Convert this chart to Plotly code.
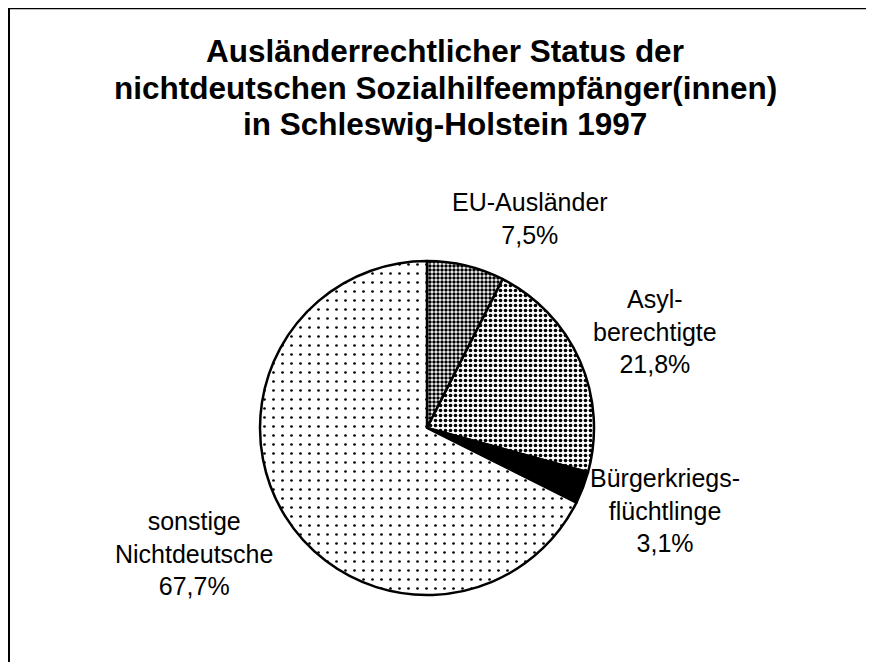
import plotly.graph_objects as go

# Data
labels = ["EU-Ausländer", "Asylberechtigte", "Bürgerkriegsflüchtlinge", "sonstige Nichtdeutsche"]
label_text = ["EU-Ausländer", "Asyl-<br>berechtigte", "Bürgerkriegs-<br>flüchtlinge", "sonstige<br>Nichtdeutsche"]
values = [7.5, 21.8, 3.1, 67.7]
title_lines = ["Ausländerrechtlicher Status der",
               "nichtdeutschen Sozialhilfeempfänger(innen)",
               "in Schleswig-Holstein 1997"]

W, H = 874, 662
OFF = 8  # page offset of the figure inside the browser page


def px(x):
    return (x - OFF) / W


def py(y):
    return 1 - (y - OFF) / H


fig = go.Figure()
fig.add_trace(go.Pie(
    labels=labels,
    values=values,
    sort=False,
    direction="clockwise",
    rotation=0,
    textinfo="none",
    hoverinfo="label+percent",
    showlegend=False,
    domain=dict(x=[px(260), px(594)], y=[py(595), py(261)]),
    marker=dict(
        colors=["white", "white", "black", "white"],
        line=dict(color="black", width=2.5),
        pattern=dict(
            shape=[".", ".", "", "."],
            fgcolor=["black", "black", "black", "black"],
            bgcolor=["white", "white", "black", "white"],
            size=[4, 5, 4, 9],
            solidity=[0.6, 0.42, 0.5, 0.07],
        ),
    ),
))

font_family = "Liberation Sans, Arial, sans-serif"
annotations = []
# Title
title_y = [51, 88, 124]
for line, yy in zip(title_lines, title_y):
    annotations.append(dict(
        text="<b>" + line + "</b>", x=px(445), y=py(yy), xref="paper", yref="paper",
        xanchor="center", yanchor="middle", showarrow=False,
        font=dict(family=font_family, size=31.5, color="black"),
    ))

# Slice labels
label_pos = [(530, 218), (655, 331), (665, 510), (194, 553)]
for txt, v, (lx, ly) in zip(label_text, values, label_pos):
    annotations.append(dict(
        text=txt + "<br>" + f"{v:.1f}".replace(".", ",") + "%",
        x=px(lx), y=py(ly), xref="paper", yref="paper",
        xanchor="center", yanchor="middle", showarrow=False, align="center",
        font=dict(family=font_family, size=25, color="black"),
    ))

shapes = [
    dict(type="line", xref="paper", yref="paper", x0=0, x1=1, y0=1, y1=1,
         line=dict(color="black", width=2.5)),
    dict(type="line", xref="paper", yref="paper", x0=px(9), x1=px(9), y0=0, y1=1,
         line=dict(color="black", width=2)),
]

fig.update_layout(
    width=W, height=H,
    margin=dict(l=0, r=0, t=0, b=0),
    paper_bgcolor="white",
    plot_bgcolor="white",
    annotations=annotations,
    shapes=shapes,
)

fig.write_html("out.html")
